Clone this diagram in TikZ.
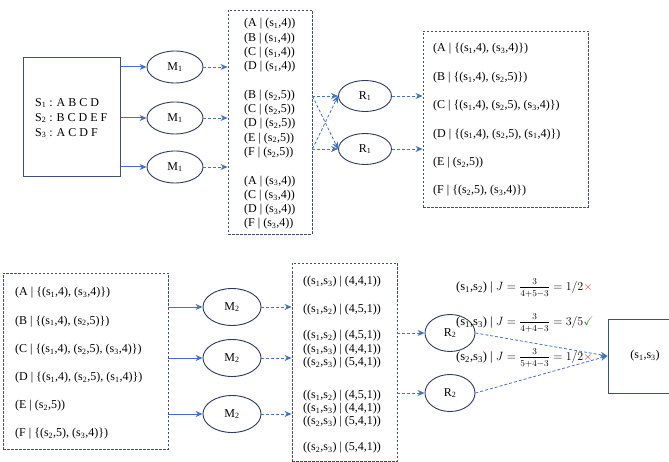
\documentclass[tikz,border=0pt]{standalone}
\usepackage{fontspec}
\setmainfont{Liberation Serif}
\usepackage{amssymb}
\usetikzlibrary{arrows.meta,shapes.geometric}
\definecolor{arr}{HTML}{4472C4}
\definecolor{edgec}{HTML}{3F4E73}
\definecolor{ellc}{HTML}{2E3A5E}
\definecolor{xred}{HTML}{D0312D}
\definecolor{okgreen}{HTML}{3C9A45}
\newcommand{\sx}[1]{s\textsubscript{#1}}
\newcommand{\jrow}[3]{((\sx{#1},\sx{#2}) | (#3))}
\newcommand{\jfrac}[2]{\frac{\raisebox{1pt}{$\scriptstyle #1$}}{\raisebox{-1.5pt}{$\scriptstyle #2$}}}
\begin{document}
\begin{tikzpicture}[x=1pt,y=-1pt,
  font=\fontsize{12}{14.3}\selectfont,
  solidbox/.style={draw=edgec, line width=1pt, inner sep=0pt},
  dbox/.style={draw=edgec, line width=0.9pt, dash pattern=on 2.5pt off 1.5pt, inner sep=0pt},
  oval/.style={ellipse, draw=ellc, line width=0.9pt, inner sep=0pt},
  sarr/.style={draw=arr, line width=1pt, -{Stealth[length=7pt,width=6pt]}},
  darr/.style={draw=arr, line width=0.8pt, dash pattern=on 3pt off 2pt, -{Stealth[length=7pt,width=6pt]}},
  txt/.style={anchor=west, inner sep=0pt, align=left},
  jtxt/.style={anchor=west, inner sep=0pt, font=\fontsize{12.5}{14}\selectfont}
]
\useasboundingbox (0,0) rectangle (669,462);

% ---------- top row ----------
\node[solidbox, minimum width=97pt, minimum height=119pt] (in) at (71.5,117.5) {};
\node[txt, font=\fontsize{12}{15}\selectfont] (intxt) at (35,118)
  {S\textsubscript{1} : A B C D\\ S\textsubscript{2} : B C D E F\\ S\textsubscript{3} : A C D F};

\node[oval, minimum width=56pt, minimum height=32pt] (m1a) at (175,67) {M\textsubscript{1}};
\node[oval, minimum width=56pt, minimum height=32pt] (m1b) at (175,118) {M\textsubscript{1}};
\node[oval, minimum width=56pt, minimum height=32pt] (m1c) at (175,167) {M\textsubscript{1}};

\node[dbox, minimum width=84pt, minimum height=224pt] (b1) at (270,122) {};
\node[txt] (b1txt) at (244,124)
  {(A | (\sx1,4))\\ (B | (\sx1,4))\\ (C | (\sx1,4))\\ (D | (\sx1,4))\\[14.3pt]
   (B | (\sx2,5))\\ (C | (\sx2,5))\\ (D | (\sx2,5))\\ (E | (\sx2,5))\\ (F | (\sx2,5))\\[14.3pt]
   (A | (\sx3,4))\\ (C | (\sx3,4))\\ (D | (\sx3,4))\\ (F | (\sx3,4))};

\node[oval, minimum width=53pt, minimum height=31pt] (r1a) at (365,96) {R\textsubscript{1}};
\node[oval, minimum width=53pt, minimum height=31pt] (r1b) at (365,149) {R\textsubscript{1}};

\node[dbox, minimum width=165pt, minimum height=176pt] (b2) at (505.5,119) {};
\node[txt, font=\fontsize{12}{28.4}\selectfont] (b2txt) at (433,120)
  {(A | \{(\sx1,4), (\sx3,4)\})\\ (B | \{(\sx1,4), (\sx2,5)\})\\
   (C | \{(\sx1,4), (\sx2,5), (\sx3,4)\})\\ (D | \{(\sx1,4), (\sx2,5), (\sx1,4)\})\\
   (E | (\sx2,5))\\ (F | \{(\sx2,5), (\sx3,4)\})};

\foreach \m in {m1a,m1b,m1c}{
  \draw[sarr] (in.east |- \m) -- (\m);
  \draw[darr] (\m) -- (b1.west |- \m);
}
\coordinate (p1) at (b1.east |- r1a);
\coordinate (p2) at (b1.east |- r1b);
\draw[darr] (p1) -- (r1a.west);
\draw[darr] (p1) -- (r1b.west);
\draw[darr] (p2) -- (r1a.west);
\draw[darr] (p2) -- (r1b.west);
\draw[darr] (r1a) -- (b2.west |- r1a);
\draw[darr] (r1b) -- (b2.west |- r1b);

% ---------- bottom row ----------
\node[dbox, minimum width=165pt, minimum height=176pt] (b3) at (85.5,361) {};
\node[txt, font=\fontsize{12}{28.2}\selectfont] (b3txt) at (15,363.5)
  {(A | \{(\sx1,4), (\sx3,4)\})\\ (B | \{(\sx1,4), (\sx2,5)\})\\
   (C | \{(\sx1,4), (\sx2,5), (\sx3,4)\})\\ (D | \{(\sx1,4), (\sx2,5), (\sx1,4)\})\\
   (E | (\sx2,5))\\ (F | \{(\sx2,5), (\sx3,4)\})};

\node[oval, minimum width=58pt, minimum height=37pt] (m2a) at (232,307) {M\textsubscript{2}};
\node[oval, minimum width=58pt, minimum height=37pt] (m2b) at (232,358) {M\textsubscript{2}};
\node[oval, minimum width=58pt, minimum height=37pt] (m2c) at (232,414) {M\textsubscript{2}};

\node[dbox, minimum width=105pt, minimum height=198pt] (b4) at (344.5,362) {};
\foreach \y/\a/\b/\v [count=\i] in {282/1/3/{4,4,1}, 310/1/2/{4,5,1}, 336/1/2/{4,5,1},
    349.5/1/3/{4,4,1}, 363/2/3/{5,4,1}, 396/1/2/{4,5,1}, 409/1/3/{4,4,1},
    422/2/3/{5,4,1}, 448/2/3/{5,4,1}}{
  \node[txt] (row\i) at (303,\y) {\jrow{\a}{\b}{\v}};
}

\node[oval, minimum width=50pt, minimum height=37pt] (r2a) at (450,333) {R\textsubscript{2}};
\node[oval, minimum width=50pt, minimum height=37pt] (r2b) at (450,393) {R\textsubscript{2}};

\node[solidbox, minimum width=74pt, minimum height=74pt] (fin) at (645,356) {(\sx1,\sx3)};

\foreach \m in {m2a,m2b,m2c}{
  \draw[sarr] (b3.east |- \m) -- (\m);
  \draw[darr] (\m) -- (b4.west |- \m);
}
\draw[darr] (b4.east |- r2a) -- (r2a);
\draw[darr] (b4.east |- r2b) -- (r2b);
\draw[darr] (r2a.east) -- (fin.west);
\draw[darr] (r2b.east) -- (fin.west);

\node[jtxt] (j1) at (456,288) {(\sx1,\sx2) | \(J=\jfrac{3}{4+5-3}=1/2\){\color{xred}\(\times\)}};
\node[jtxt] (j2) at (456,323) {(\sx1,\sx3) | \(J=\jfrac{3}{4+4-3}=3/5\){\color{okgreen}\(\checkmark\)}};
\node[jtxt] (j3) at (456,358) {(\sx2,\sx3) | \(J=\jfrac{3}{5+4-3}=1/2\){\color{xred}\(\times\)}};
\end{tikzpicture}
\end{document}
